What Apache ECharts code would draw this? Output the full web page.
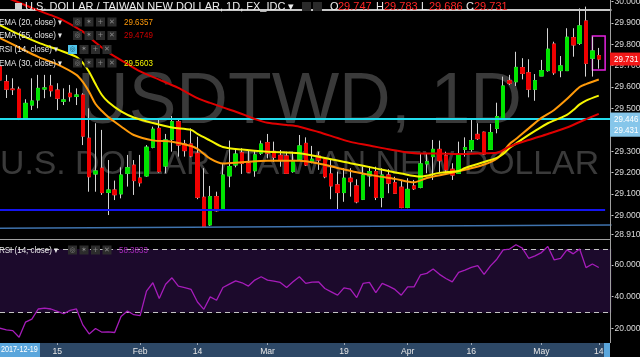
<!DOCTYPE html>
<html><head><meta charset="utf-8">
<script src="https://cdn.jsdelivr.net/npm/echarts@6/dist/echarts.min.js"></script>
<style>html,body{margin:0;padding:0;background:#000;}#c{width:640px;height:357px;}</style>
</head><body><div id="c"></div>
<script>
const dates = [
'2018-01-02','2018-01-03','2018-01-04','2018-01-05','2018-01-08','2018-01-09','2018-01-10','2018-01-11','2018-01-12','2018-01-15',
'2018-01-16','2018-01-17','2018-01-18','2018-01-19','2018-01-22','2018-01-23','2018-01-24','2018-01-25','2018-01-26','2018-01-29',
'2018-01-30','2018-01-31','2018-02-01','2018-02-02','2018-02-05','2018-02-06','2018-02-07','2018-02-08','2018-02-09','2018-02-12',
'2018-02-13','2018-02-14','2018-02-15','2018-02-16','2018-02-19','2018-02-20','2018-02-21','2018-02-22','2018-02-23','2018-02-26',
'2018-02-27','2018-02-28','2018-03-01','2018-03-02','2018-03-05','2018-03-06','2018-03-07','2018-03-08','2018-03-09','2018-03-12',
'2018-03-13','2018-03-14','2018-03-15','2018-03-16','2018-03-19','2018-03-20','2018-03-21','2018-03-22','2018-03-23','2018-03-26',
'2018-03-27','2018-03-28','2018-03-29','2018-03-30','2018-04-02','2018-04-03','2018-04-04','2018-04-05','2018-04-06','2018-04-09',
'2018-04-10','2018-04-11','2018-04-12','2018-04-13','2018-04-16','2018-04-17','2018-04-18','2018-04-19','2018-04-20','2018-04-23',
'2018-04-24','2018-04-25','2018-04-26','2018-04-27','2018-04-30','2018-05-01','2018-05-02','2018-05-03','2018-05-04','2018-05-07',
'2018-05-08','2018-05-09','2018-05-10','2018-05-11','2018-05-14'];
const padCats = ['pad1','pad2'];

const candleOpen = [29.695,29.625,29.591,29.590,29.454,29.516,29.540,29.591,29.605,29.586,
29.534,29.571,29.557,29.563,29.361,29.194,29.221,29.108,29.119,29.101,
29.197,29.235,29.175,29.185,29.319,29.407,29.231,29.356,29.438,29.334,
29.334,29.291,29.085,28.956,29.088,29.029,29.185,29.236,29.293,29.244,
29.209,29.291,29.340,29.300,29.281,29.278,29.205,29.263,29.337,29.250,
29.278,29.263,29.194,29.143,29.107,29.174,29.138,29.076,29.185,29.205,
29.085,29.189,29.153,29.132,29.038,29.138,29.132,29.241,29.275,29.309,
29.279,29.216,29.197,29.309,29.309,29.379,29.389,29.309,29.407,29.454,
29.630,29.625,29.691,29.667,29.590,29.652,29.677,29.801,29.677,29.677,
29.831,29.805,29.909,29.735,29.747];
const candleClose = [29.633,29.590,29.588,29.454,29.524,29.535,29.594,29.596,29.583,29.548,
29.540,29.555,29.563,29.371,29.181,29.208,29.107,29.119,29.097,29.189,
29.223,29.163,29.153,29.319,29.403,29.205,29.353,29.438,29.329,29.303,
29.278,29.085,28.948,29.088,29.022,29.189,29.228,29.287,29.244,29.203,
29.283,29.334,29.291,29.272,29.259,29.197,29.255,29.325,29.236,29.263,
29.259,29.181,29.138,29.107,29.174,29.158,29.064,29.189,29.205,29.085,
29.189,29.151,29.104,29.038,29.122,29.125,29.241,29.251,29.309,29.256,
29.213,29.189,29.287,29.317,29.350,29.359,29.287,29.387,29.462,29.605,
29.618,29.692,29.664,29.590,29.630,29.677,29.777,29.667,29.699,29.833,
29.797,29.886,29.711,29.769,29.731];
const candleLow = [29.624,29.549,29.563,29.446,29.450,29.493,29.501,29.548,29.555,29.493,
29.516,29.532,29.516,29.329,29.111,29.111,29.096,29.002,29.072,29.080,
29.135,29.096,29.135,29.181,29.314,29.200,29.197,29.298,29.275,29.275,
29.272,29.076,28.946,28.951,29.018,29.026,29.132,29.225,29.194,29.200,
29.181,29.283,29.267,29.251,29.228,29.194,29.200,29.256,29.231,29.244,
29.213,29.174,29.076,29.026,29.064,29.088,29.057,29.072,29.135,29.072,
29.038,29.104,29.101,29.034,29.034,29.119,29.127,29.197,29.166,29.197,
29.197,29.166,29.194,29.275,29.298,29.353,29.283,29.306,29.384,29.446,
29.610,29.605,29.636,29.552,29.536,29.652,29.672,29.657,29.646,29.677,
29.742,29.797,29.649,29.649,29.686];
const candleHigh = [29.717,29.657,29.641,29.602,29.543,29.641,29.657,29.657,29.657,29.618,
29.594,29.610,29.594,29.571,29.501,29.431,29.400,29.259,29.163,29.225,
29.283,29.259,29.283,29.329,29.415,29.450,29.381,29.465,29.446,29.353,
29.407,29.368,29.221,29.138,29.111,29.244,29.350,29.314,29.314,29.303,
29.306,29.350,29.381,29.345,29.306,29.298,29.298,29.376,29.365,29.325,
29.298,29.267,29.263,29.205,29.221,29.221,29.169,29.228,29.231,29.228,
29.221,29.216,29.181,29.166,29.174,29.166,29.291,29.291,29.353,29.350,
29.298,29.244,29.345,29.365,29.446,29.431,29.392,29.428,29.527,29.649,
29.657,29.765,29.735,29.730,29.661,29.727,29.875,29.812,29.745,29.875,
29.875,29.968,29.976,29.836,29.783];

const ema20 = [[0,29.829],[3,29.785],[6,29.741],[9,29.706],[12,29.657],[13,29.624],[14,29.577],[15,29.521],[16,29.488],[17,29.460],[19,29.416],[21,29.376],[24,29.351],[27,29.345],[30,29.325],[31,29.311],[33,29.266],[35,29.243],[38,29.249],[42,29.256],[47,29.256],[50,29.243],[53,29.222],[56,29.202],[59,29.185],[62,29.171],[65,29.155],[67,29.175],[70,29.194],[73,29.213],[76,29.238],[78,29.265],[79,29.297],[80,29.334],[81,29.357],[83,29.407],[85,29.456],[87,29.493],[89,29.544],[91,29.600],[92,29.614],[94,29.6357]];
const ema30 = [[0,29.890],[3,29.846],[6,29.808],[9,29.776],[12,29.741],[13,29.713],[14,29.671],[15,29.614],[16,29.563],[17,29.530],[19,29.486],[21,29.458],[24,29.432],[27,29.411],[30,29.400],[31,29.381],[33,29.350],[35,29.320],[38,29.308],[42,29.298],[47,29.291],[51,29.269],[55,29.244],[59,29.220],[63,29.196],[66,29.182],[69,29.199],[72,29.208],[73,29.222],[76,29.250],[78,29.269],[79,29.287],[80,29.315],[81,29.336],[82,29.357],[84,29.395],[86,29.431],[88,29.456],[89,29.470],[90,29.493],[91,29.519],[92,29.537],[94,29.5603]];
const ema55 = [[0,30.026],[2,30.007],[5,29.970],[8,29.936],[10,29.911],[13,29.859],[15,29.808],[17,29.762],[20,29.708],[22,29.673],[25,29.635],[28,29.596],[31,29.548],[33,29.526],[35,29.505],[38,29.474],[40,29.451],[42,29.433],[45,29.423],[47,29.415],[50,29.390],[53,29.362],[55,29.344],[58,29.327],[61,29.309],[63,29.299],[66,29.290],[69,29.290],[72,29.287],[75,29.290],[78,29.293],[80,29.322],[83,29.353],[86,29.381],[89,29.411],[91,29.437],[94,29.4749]];

const rsi = [20.2,19.2,18.7,14.5,24.0,25.9,32.3,32.9,32.3,30.8,29.3,31.4,32.3,22.3,16.6,20.0,17.7,17.9,17.5,27.6,
31.0,28.7,28.1,43.5,48.8,38.9,47.9,51.9,46.7,45.8,44.6,36.7,32.1,39.9,37.8,45.8,47.9,50.0,48.8,46.7,
50.5,52.6,50.5,49.8,49.0,45.8,49.4,52.6,48.4,49.2,49.4,
45.2,43.1,41.0,45.6,44.8,39.5,48.4,49.0,42.6,48.4,46.7,44.6,41.0,46.2,46.2,53.7,54.7,57.5,54.1,51.5,
49.4,55.4,56.8,58.5,59.6,54.1,59.4,63.6,69.5,70.0,72.7,70.6,64.2,65.7,67.8,71.6,63.2,64.2,69.5,67.0,
70.0,58.3,60.6,58.4];

const xTickIdx = [9,22,31,42,54,64,74,85,94];
const xTickText = ['15','Feb','14','Mar','19','Apr','16','May','14'];
const priceTicks = [28.91,29.0,29.1,29.2,29.3,29.4,29.5,29.6,29.7,29.8,29.9,30.0];
const rsiTicks = [20,40,60];
const priceRange = [28.890, 30.007];
const rsiRange = [10.9, 75.7];
const levelLines = { top: 29.958, cyan: 29.446, blue: 29.026, trendStart: 28.940, trendEnd: 28.955 };
const priceBoxes = [{v:29.731, t:'29.731', c:'#f21818', dy:0},{v:29.446, t:'29.446', c:'#86c6ea', dy:-1},{v:29.431, t:'29.431', c:'#86c6ea', dy:7}];
const legendVals = {ema20:'29.6357', ema55:'29.4749', ema30:'29.5603', rsi:'58.3833'};
const ohlc = {O:'29.747', H:'29.783', L:'29.686', C:'29.731'};

const xCats = dates.concat(padCats);
const wickData = candleOpen.map((o,i)=>[o,candleClose[i],candleLow[i],candleHigh[i]]);
const bodyData = candleOpen.map((o,i)=>[o,candleClose[i],Math.min(o,candleClose[i]),Math.max(o,candleClose[i])]);

const AX_FONT = '"Liberation Sans",Arial,sans-serif';
const chart = echarts.init(document.getElementById('c'), null, {renderer:'canvas'});

const gridW = 611.5;
const option = {
  backgroundColor:'#000',
  animation:false,
  grid:[{left:0,top:0,width:gridW,height:239,outerBoundsMode:'none',containLabel:false},
        {left:0,top:240,width:gridW,height:103,outerBoundsMode:'none',containLabel:false}],
  xAxis:[
    {type:'category',gridIndex:0,data:xCats,boundaryGap:false,axisLine:{show:false},axisTick:{show:false},axisLabel:{show:false},splitLine:{show:false}},
    {type:'category',gridIndex:1,data:xCats,boundaryGap:false,axisLine:{show:false},
     axisTick:{show:true,length:2,lineStyle:{color:'#9aa8b8'},interval:(i)=>xTickIdx.includes(i)},
     axisLabel:{show:true,interval:(i)=>xTickIdx.includes(i),formatter:(v,i)=>{const k=xTickIdx.indexOf(i);return k>=0?xTickText[k]:'';},color:'#e6e6e6',fontSize:8.6,fontFamily:AX_FONT,margin:4},
     splitLine:{show:false}}
  ],
  yAxis:[
    {type:'value',gridIndex:0,position:'right',min:priceRange[0],max:priceRange[1],scale:true,
     axisLine:{show:false},splitLine:{show:false},
     axisTick:{show:true,length:2,lineStyle:{color:'#cfcfcf'},customValues:priceTicks},
     axisLabel:{show:true,customValues:priceTicks,formatter:(v)=>v.toFixed(3),color:'#dcdcdc',fontSize:8.5,fontFamily:AX_FONT,margin:3}},
    {type:'value',gridIndex:1,position:'right',min:rsiRange[0],max:rsiRange[1],
     axisLine:{show:false},splitLine:{show:false},
     axisTick:{show:true,length:2,lineStyle:{color:'#cfcfcf'},customValues:rsiTicks},
     axisLabel:{show:true,customValues:rsiTicks,formatter:(v)=>v.toFixed(4),color:'#dcdcdc',fontSize:8.5,fontFamily:AX_FONT,margin:3}}
  ],
  series:[
    {type:'candlestick',name:'wick',xAxisIndex:0,yAxisIndex:0,data:wickData,barWidth:4,z:3,
     itemStyle:{color:'#d4d4d4',color0:'#d4d4d4',borderColor:'#d4d4d4',borderColor0:'#d4d4d4',borderWidth:1},
     markLine:{silent:true,symbol:['none','none'],label:{show:false},animation:false,
       data:[
         {yAxis:levelLines.top,lineStyle:{color:'#c8c8c8',width:2,type:'solid'}},
         {yAxis:levelLines.cyan,lineStyle:{color:'#22dcec',width:2,type:'solid'}},
         [{coord:[0,levelLines.blue]},{coord:[95,levelLines.blue],lineStyle:{color:'#1515f0',width:2,type:'solid'}}],
         [{coord:[0,levelLines.trendStart]},{coord:[96,levelLines.trendEnd],lineStyle:{color:'#3f73ae',width:1.5,type:'solid'}}]
       ]},
     markArea:{silent:true,data:[[{coord:[93,29.839]},{coord:[95,29.680]}]],itemStyle:{color:'rgba(0,0,0,0)',borderColor:'#e522e0',borderWidth:1.5}}
    },
    {type:'candlestick',name:'body',xAxisIndex:0,yAxisIndex:0,data:bodyData,barWidth:4,z:4,
     itemStyle:{color:'#00e400',color0:'#f00000',borderColor:'#00e400',borderColor0:'#f00000',borderWidth:1}},
    {type:'line',name:'EMA20',xAxisIndex:0,yAxisIndex:0,data:ema20,showSymbol:false,smooth:0.3,z:5,lineStyle:{color:'#ff9a0a',width:2}},
    {type:'line',name:'EMA30',xAxisIndex:0,yAxisIndex:0,data:ema30,showSymbol:false,smooth:0.3,z:5,lineStyle:{color:'#f5f500',width:2}},
    {type:'line',name:'EMA55',xAxisIndex:0,yAxisIndex:0,data:ema55,showSymbol:false,smooth:0.3,z:5,lineStyle:{color:'#e00000',width:2}},
    {type:'line',name:'RSI',xAxisIndex:1,yAxisIndex:1,data:rsi,showSymbol:false,z:5,lineStyle:{color:'#a61cba',width:1.3},
     markArea:{silent:true,data:[[{yAxis:30},{yAxis:70}]],itemStyle:{color:'#1c0a2c'}},
     markLine:{silent:true,symbol:['none','none'],label:{show:false},lineStyle:{color:'#c4c4c4',type:[5,4],width:1},data:[{yAxis:70},{yAxis:30}]}}
  ]
};
chart.setOption(option);

// overlay graphics
const G = [];
const TXT = '"Liberation Sans",Arial,sans-serif';
function text(x,y,t,color,size,sx,z){G.push({type:'text',x:x,y:y,z:z||24,scaleX:sx||1,silent:true,style:{text:t,fill:color,font:size+'px '+TXT,verticalAlign:'middle',align:'left'}});}
function rect(x,y,w,h,fill,z){G.push({type:'rect',z:z||20,silent:true,shape:{x:x,y:y,width:w,height:h},style:{fill:fill}});}
// watermark
G.push({type:'text',x:77,y:103,z:0,silent:true,style:{text:'USDTWD, 1D',fill:'#3a3a3a',font:'71.5px "Liberation Sans",Arial,sans-serif',verticalAlign:'middle'}});
G.push({type:'text',x:0,y:165,z:0,silent:true,style:{text:'U.S. DOLLAR / TAIWAN NEW DOLLAR',fill:'#3a3a3a',font:'33.8px "Liberation Sans",Arial,sans-serif',verticalAlign:'middle'}});
// title row
rect(15,3,7,7,'#cfcfcf');
text(25,7,'U.S. DOLLAR / TAIWAN NEW DOLLAR, 1D, FX_IDC \u25BE','#ececec',11);
rect(302,2,9,9,'#2a2a2a'); rect(313,2,9,9,'#2a2a2a');
const ohlcX = [330,376,421,466];
['O','H','L','C'].forEach((k,j)=>{text(ohlcX[j],7,k,'#ececec',11);text(ohlcX[j]+8,7,ohlc[k],'#ff2626',11);});
// legend rows
const rows = [
  {y:22,label:'EMA (20, close) \u25BE',ix:73,val:legendVals.ema20,vc:'#ff9a0a',vx:124},
  {y:35.5,label:'EMA (55, close) \u25BE',ix:73,val:legendVals.ema55,vc:'#d00000',vx:124},
  {y:49.5,label:'RSI (14, close) \u25BE',ix:68,val:'',vc:'#fff',vx:119,cyan:true},
  {y:63,label:'EMA (30, close) \u25BE',ix:73,val:legendVals.ema30,vc:'#f5f500',vx:124},
  {y:250,label:'RSI (14, close) \u25BE',ix:68,val:legendVals.rsi,vc:'#a52ab8',vx:119}
];
const glyphs = ['\u25CE','\u2736','+','\u2715'];
rows.forEach(r=>{
  text(-1,r.y,r.label,'#e8e8e8',9.3,0.86);
  for(let k=0;k<4;k++){
    const bx = r.ix + k*11.5;
    rect(bx,r.y-4.5,9,9,(r.cyan&&k===0)?'#4fc3ea':'#2c2c2c');
    G.push({type:'text',x:bx+4.5,y:r.y,z:21,silent:true,style:{text:glyphs[k],fill:(r.cyan&&k===0)?'#1b4a5a':'#8a8a8a',font:'7px "DejaVu Sans",sans-serif',align:'center',verticalAlign:'middle'}});
  }
  if(r.val) text(r.vx,r.y,r.val,r.vc,9.3,0.86);
});
// separators
G.push({type:'line',z:15,silent:true,shape:{x1:0,y1:239.5,x2:610,y2:239.5},style:{stroke:'#a0a0a0',lineWidth:1}});
G.push({type:'line',z:15,silent:true,shape:{x1:610.5,y1:0,x2:610.5,y2:343},style:{stroke:'#a0a0a0',lineWidth:1}});
// date strip
rect(0,343,610,14,'#2d4866',-1);
rect(0,343,40,14,'#5aa6dc',21);
text(1,350,'2017-12-19','#ffffff',9,0.8,25);
rect(604,343,6,14,'#5aa6dc',21);
// price boxes
priceBoxes.forEach(b=>{
  const py = chart.convertToPixel({yAxisIndex:0}, b.v) + b.dy;
  rect(610,py-6.5,31,13,b.c,22);
  text(614,py,b.t,'#ffffff',9.3,0.86,23);
});
chart.setOption({graphic:G});
</script></body></html>
